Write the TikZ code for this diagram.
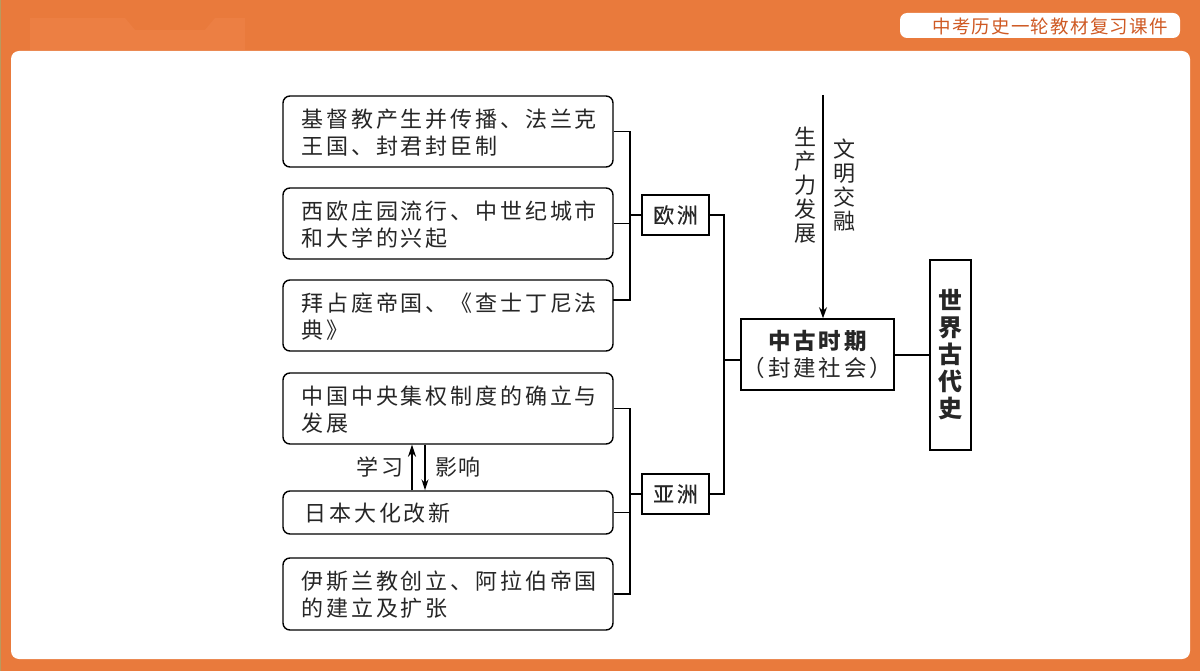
\documentclass[tikz,border=0pt]{standalone}
\usepackage{fontspec}
\setmainfont{Noto Sans CJK SC}
\usepackage{xcolor}
\usetikzlibrary{arrows.meta,calc}
\definecolor{slidebg}{HTML}{E97A3C}
\definecolor{patchbg}{HTML}{EC7F43}
\definecolor{edgebg}{HTML}{B89A5E}
\definecolor{titletext}{HTML}{CF5A24}

\begin{document}
\begin{tikzpicture}[
    x=1pt,
    y=-1pt,
    every node/.style={inner sep=0pt,text=black!85},
    eventbox/.style={
        draw,
        rounded corners=7pt,
        line width=1.4pt,
        minimum width=330pt,
        text width=293pt,
        align=left,
        font=\fontsize{22}{27}\selectfont\addfontfeature{LetterSpace=13},
        execute at begin node={\rule{0pt}{20.5pt}}
    },
    regionbox/.style={
        draw,
        line width=1.4pt,
        minimum width=67pt,
        minimum height=40pt,
        font=\fontsize{21}{25}\selectfont\addfontfeature{LetterSpace=13,FakeBold=0.4}
    },
    framebox/.style={draw,line width=1.6pt},
    sidelabel/.style={
        align=center,
        font=\fontsize{22}{24}\selectfont
    },
    link/.style={line width=1.3pt}
]

% ---------------- Slide ----------------
\fill[slidebg] (0,0) rectangle (1200,671);
\fill[edgebg] (0,0) rectangle (1,671);
\fill[patchbg] (30,18) -- (125,18) -- (135,30) -- (205,30) -- (215,18) -- (245,18)
    -- (245,50) -- (30,50) -- cycle;
\fill[white,rounded corners=8pt] (11,51) rectangle (1190,659);
\fill[white,rounded corners=7pt] (900,13) rectangle (1180,38);
\node[text=titletext,font=\fontsize{18.5}{20}\selectfont\addfontfeature{LetterSpace=6.5}]
    (title) at (1050,26) {中考历史一轮教材复习课件};

% ---------------- Left boxes ----------------
\node[eventbox,minimum height=71pt] (box1) at (448,131.5) {基督教产生并传播、法兰克\\王国、封君封臣制};
\node[eventbox,minimum height=71pt] (box2) at (448,223.5) {西欧庄园流行、中世纪城市\\和大学的兴起};
\node[eventbox,minimum height=71pt] (box3) at (448,315.5) {拜占庭帝国、《查士丁尼法\\典》};
\node[eventbox,minimum height=71pt] (box4) at (448,408.5) {中国中央集权制度的确立与\\发展};
\node[eventbox,minimum height=43pt] (box5) at (448,512.5) {\hspace{3pt}日本大化改新};
\node[eventbox,minimum height=72pt] (box6) at (448,594) {伊斯兰教创立、阿拉伯帝国\\的建立及扩张};

% ---------------- Regions ----------------
\node[regionbox] (europe) at (675.5,215) {欧洲};
\node[regionbox] (asia) at (675.5,494) {亚洲};

% ---------------- Right boxes ----------------
\node[framebox,minimum width=153pt,minimum height=71pt,align=center,
    font=\fontsize{22.5}{27}\selectfont] (medieval) at (817.5,354.5)
    {{\bfseries\addfontfeature{LetterSpace=13}中古时期}\\{\addfontfeature{LetterSpace=13}（封建社会）}};
\node[framebox,minimum width=41pt,minimum height=190pt,align=center,
    font=\fontsize{24}{27}\selectfont\bfseries] (world) at (950.5,355)
    {世\\界\\古\\代\\史};

% ---------------- Labels ----------------
\node[sidelabel] (productive) at (805,185) {生\\产\\力\\发\\展};
\node[sidelabel] (exchange) at (844,185.5) {文\\明\\交\\融};
\node[font=\fontsize{22}{24}\selectfont\addfontfeature{LetterSpace=10}] (learn) at (380,467) {学习};
\node[font=\fontsize{22}{24}\selectfont\addfontfeature{LetterSpace=6}] (influence) at (458,467) {影响};

% ---------------- Free ends ----------------
\coordinate (eujoin) at (630,215);
\coordinate (asjoin) at (630,494);
\coordinate (midjoin) at (724,360);
\coordinate (box3r) at (613,300);
\coordinate (start) at (823,95);
\coordinate (upline) at (412,467);
\coordinate (downline) at (425,467);

% ---------------- Connectors ----------------
\draw[link] (box1.east) -- (box1.east -| eujoin) -- (box3r -| eujoin) -- (box3r);
\draw[link] (box2.east) -- (box2.east -| eujoin);
\draw[link] (europe.west) -- (eujoin);

\draw[link] (box4.east) -- (box4.east -| asjoin) -- (box6.east -| asjoin) -- (box6.east);
\draw[link] (box5.east) -- (box5.east -| asjoin);
\draw[link] (asia.west) -- (asjoin);

\draw[link] (europe.east) -| (midjoin);
\draw[link] (asia.east) -| (midjoin);
\draw[link] (midjoin) -- (medieval.west |- midjoin);
\draw[link] (medieval.east |- world.west) -- (world.west);

\draw[link,-{Stealth[length=11pt,width=8pt]}] (start) -- (start |- medieval.north);
\draw[line width=1.6pt,-{Stealth[length=12pt,width=8pt]}] (upline |- box5.north) -- (upline |- box4.south);
\draw[link,-{Stealth[length=11pt,width=7pt]}] (downline |- box4.south) -- (downline |- box5.north);

\end{tikzpicture}
\end{document}
